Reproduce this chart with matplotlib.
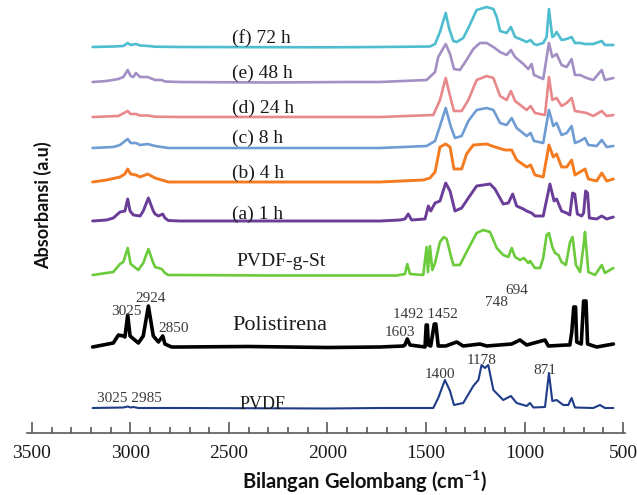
import matplotlib
matplotlib.use('Agg')
import matplotlib.pyplot as plt
from matplotlib.ticker import MultipleLocator

plt.rcParams['font.family'] = 'Liberation Serif'
plt.rcParams['mathtext.fontset'] = 'custom'
plt.rcParams['mathtext.rm'] = 'Lato'
plt.rcParams['mathtext.bf'] = 'Lato:bold'

# FTIR spectra: wavenumber (cm-1) and absorbance (a.u.)
WN_F = [3192, 3087, 3036, 3014, 2999, 2985, 2972, 2951, 2909, 2875, 2750, 2000, 1734, 1480, 1454, 1429, 1400,
        1382, 1361, 1344, 1311, 1285, 1243, 1192, 1158, 1141, 1124, 1091, 1069, 1048, 1023, 989, 969, 952, 938,
        905, 888, 876, 859, 850, 837, 812, 786, 761, 744, 718, 693, 651, 608, 592, 549]
AB_F = [0, 0.5, 1, 4, 2, 2.5, 3, 1.5, 1, 0.3, 0, -0.3, 0, 0.5, 3, 15, 34,
        18, 6, 5, 9, 19, 37, 40, 38, 30, 16, 14, 20, 10, 8, 5, 7, 3, 2,
        4, 10, 38, 10, 11, 15, 7, 8, 10, 4, 4, 3, 3, 6, 2, 2]

WN_E = [3192, 3121, 3061, 3036, 3014, 2999, 2985, 2972, 2951, 2913, 2875, 2841, 2825, 2750, 2300, 1900, 1734,
        1497, 1454, 1438, 1400, 1378, 1358, 1328, 1294, 1260, 1226, 1192, 1158, 1124, 1091, 1069, 1048, 1006,
        981, 964, 952, 905, 876, 859, 837, 812, 786, 761, 744, 718, 685, 651, 608, 592, 549]
AB_E = [0, 1, 3, 5, 12, 6, 5, 9, 5, 5, 2, 2, 0.5, 0, -0.5, 0, 0,
        2, 10, 25, 38, 28, 13, 12, 22, 33, 39, 39, 35, 30, 27, 32, 25, 18,
        13, 18, 7, 3, 39, 25, 28, 17, 15, 23, 7, 7, 4, 2, 12, 2, 4]

WN_D = [3192, 3061, 3014, 2999, 2972, 2951, 2913, 2875, 2750, 1734, 1463, 1429, 1400, 1378, 1358, 1319, 1285,
        1243, 1192, 1158, 1124, 1091, 1069, 1048, 989, 969, 947, 896, 876, 859, 837, 812, 786, 761, 744, 685,
        651, 608, 583, 549]
AB_D = [0, 1, 6, 3, 3, 1.5, 1.5, 0.3, 0, 0, 2, 17, 39, 21, 6, 6, 17,
        37, 41, 39, 21, 17, 26, 16, 7, 11, 4, 2, 40, 17, 19, 11, 14, 19, 6, 4,
        1, 6, 1, 2]

WN_C = [3192, 3087, 3053, 3014, 2999, 2972, 2951, 2913, 2875, 2841, 2808, 2750, 1734, 1497, 1454, 1429, 1400,
        1375, 1353, 1319, 1285, 1243, 1192, 1158, 1124, 1091, 1065, 1040, 989, 969, 952, 905, 876, 854, 837,
        812, 786, 761, 744, 718, 693, 676, 634, 608, 583, 549]
AB_C = [0, 1, 3, 9, 5, 5, 3, 4, 2, 1, 0, 0, 0, 2, 7, 22, 40,
        22, 10, 12, 27, 38, 40, 38, 25, 23, 30, 20, 12, 15, 7, 5, 38, 22, 25,
        13, 15, 22, 5, 7, 10, 3, 2, 8, 1, 2]

WN_B = [3192, 3121, 3053, 3028, 3014, 2999, 2972, 2951, 2913, 2875, 2841, 2808, 2750, 1734, 1514, 1480, 1454,
        1429, 1400, 1378, 1358, 1319, 1294, 1260, 1192, 1150, 1099, 1065, 1040, 989, 969, 947, 905, 876, 854,
        837, 812, 786, 761, 744, 718, 693, 676, 634, 608, 583, 549]
AB_B = [0, 2, 5, 8, 13, 8, 7, 5, 8, 4, 2, 0, 0, 0, 2, 4, 10,
        35, 38, 35, 13, 13, 28, 37, 38, 35, 32, 32, 22, 15, 17, 7, 5, 37, 25,
        28, 15, 15, 22, 7, 10, 13, 3, 1, 9, 1, 3]

WN_A = [3192, 3121, 3087, 3053, 3028, 3014, 3002, 2985, 2951, 2935, 2909, 2884, 2875, 2858, 2836, 2825, 2808,
        2750, 1734, 1632, 1607, 1590, 1573, 1505, 1488, 1476, 1454, 1429, 1400, 1378, 1353, 1319, 1285, 1243,
        1175, 1150, 1108, 1082, 1060, 1040, 1006, 989, 964, 947, 905, 871, 850, 837, 812, 786, 770, 756, 745,
        732, 710, 700, 690, 680, 671, 634, 608, 583, 549]
AB_A = [0, 1, 3, 9, 10, 22, 10, 6, 5, 10, 23, 10, 7, 5, 7, 3, 0.5,
        0, 0, 1, 2, 7, 1, 2, 15, 10, 18, 20, 38, 30, 10, 13, 23, 35,
        37, 32, 17, 18, 27, 15, 12, 10, 8, 5, 5, 37, 20, 22, 10, 8, 6, 28, 27,
        7, 5, 8, 30, 28, 3, 2, 5, 2, 4]

WN_G = [3192, 3087, 3053, 3036, 3014, 2999, 2960, 2935, 2909, 2884, 2875, 2841, 2825, 2808, 2750, 2300, 1734,
        1649, 1607, 1595, 1581, 1514, 1497, 1490, 1480, 1468, 1454, 1429, 1410, 1395, 1375, 1361, 1328, 1294,
        1243, 1209, 1175, 1141, 1108, 1082, 1065, 1048, 1023, 1003, 981, 972, 947, 921, 905, 888, 876, 859,
        845, 828, 812, 790, 769, 756, 739, 718, 700, 693, 676, 642, 608, 592, 549]
AB_G = [0, 3, 11, 13, 27, 11, 5, 12, 26, 12, 8, 6, 2, 0, 0, -0.5, -0.5,
        -0.5, 1, 11, 1, 0, 28, 3, 29, 5, 12, 33, 38, 36, 20, 10, 10, 23,
        42, 45, 43, 27, 20, 18, 27, 18, 15, 17, 12, 14, 7, 7, 17, 40, 42, 28,
        22, 20, 13, 10, 33, 38, 10, 3, 30, 43, 3, 0, 10, 2, 7]

WN_PS = [3192, 3087, 3061, 3036, 3028, 3014, 3002, 2960, 2935, 2909, 2884, 2858, 2836, 2825, 2791, 2750, 2400,
         2000, 1734, 1615, 1607, 1595, 1581, 1505, 1499, 1493, 1488, 1476, 1458, 1450, 1438, 1400, 1344, 1311,
         1226, 1192, 1065, 1023, 989, 896, 879, 786, 770, 760, 750, 741, 735, 712, 700, 688, 680, 634, 549]
AB_PS = [0, 4, 12, 11, 10, 32, 11, 4, 11, 41, 11, 5, 11, 3, 0, 0, 0.5,
         -0.5, 0, 1, 2, 8, 2, 0, 22, 22, 2, 1, 23, 23, 1, 1, 5, 1,
         3, 1, 3, 7, 2, 7, 1, 2, 2, 15, 40, 40, 5, 3, 46, 46, 3, 0, 3]

WN_PVDF = [3192, 3036, 3014, 2999, 2985, 2960, 2750, 2000, 1734, 1463, 1438, 1404, 1378, 1358, 1311, 1260, 1234,
           1218, 1201, 1184, 1158, 1108, 1069, 1040, 989, 972, 955, 896, 876, 859, 837, 803, 778, 761, 744, 651,
           617, 592, 549]
AB_PVDF = [0, 0.5, 1.5, 0.5, 1, 0, 0, -0.5, 0, 0, 10, 28, 17, 3, 5, 22, 28,
           43, 40, 43, 18, 8, 12, 5, 2, 5, 0.5, 1, 35, 7, 8, 3, 3, 10, 0.5, 0,
           3, 0, 0]

WAVENUMBERS = [WN_F, WN_E, WN_D, WN_C, WN_B, WN_A, WN_G, WN_PS, WN_PVDF]
ABSORBANCES = [AB_F, AB_E, AB_D, AB_C, AB_B, AB_A, AB_G, AB_PS, AB_PVDF]
NAMES = ['(f) 72 h', '(e) 48 h', '(d) 24 h', '(c) 8 h', '(b) 4 h', '(a) 1 h', 'PVDF-g-St', 'Polistirena', 'PVDF']

# peak annotations (wavenumber label only)
PEAK_TEXT = ['3025', '2924', '2850', '1603', '1492 1452', '748', '694', '3025 2985', '1400', '1178', '871']

# stacking and styling
OFFSETS = [386, 351, 316, 285, 251, 212, 158, 86, 25]
COLORS = ['#4DBDCF', '#A38FC4', '#E8888B', '#6F9CD2', '#F47B20', '#6A3D98', '#6BCB3B', '#000000', '#1F3C88']
WIDTHS = [1.9, 1.9, 1.9, 1.9, 2.1, 2.1, 1.9, 2.6, 1.5]
# name label: (x, y baseline), fontsize
NAME_POS = [(2485, 390), (2485, 355), (2485, 320), (2485, 290), (2485, 255), (2485, 214),
            (2462, 167), (2485, 103), (2445, 24)]
NAME_SIZE = [14, 14, 14, 14, 14, 14, 14, 16, 13]
PEAK_POS = [(3018, 121.5), (2900, 134), (2780, 104.5), (1632, 100.5), (1505, 119), (1142, 130.5),
            (1040, 143), (3006, 34), (1427, 59), (1220, 73), (899, 62)]

fig = plt.figure(figsize=(6.37, 4.95), dpi=100)
ax = fig.add_axes([27 / 637, 62 / 495, 598 / 637, 433 / 495])
fig.patch.set_facecolor('white')

for wn, ab, off, col, lw in zip(WAVENUMBERS, ABSORBANCES, OFFSETS, COLORS, WIDTHS):
    ax.plot(wn, [off + a for a in ab], color=col, lw=lw, solid_joinstyle='round', solid_capstyle='round')

for name, (x, y), fs in zip(NAMES, NAME_POS, NAME_SIZE):
    ax.text(x, y, name, fontsize=fs, color='#1a1a1a', ha='left', va='baseline')

for txt, (x, y) in zip(PEAK_TEXT, PEAK_POS):
    ax.text(x, y, txt, fontsize=11, color='#3a3a3a', ha='center', va='center')

ax.set_xlim(3525, 490)
ax.set_ylim(0, 433)
ax.xaxis.set_major_locator(MultipleLocator(500))
ax.xaxis.set_minor_locator(MultipleLocator(100))
ax.tick_params(axis='x', which='major', direction='in', length=8, width=1.2, color='#595959',
               labelsize=14, pad=9, labelcolor='#1a1a1a')
ax.tick_params(axis='x', which='minor', direction='in', length=4.5, width=1.2, color='#595959')
ax.set_yticks([])
for s in ['left', 'top', 'right']:
    ax.spines[s].set_visible(False)
ax.spines['bottom'].set_color('#595959')
ax.spines['bottom'].set_linewidth(1.2)

fig.text(365 / 637, 1 - 482 / 495, r'Bilangan Gelombang (cm$^{\mathbf{-1}}$)', family='Lato',
         fontweight='bold', fontsize=14.5, ha='center', va='center', color='#111111')
fig.text(43 / 637, 1 - 205 / 495, 'Absorbansi (a.u)', family='Lato', fontweight='bold',
         fontsize=13, rotation=90, ha='center', va='center', color='#111111')

plt.savefig('out.png', dpi=100, facecolor='white')
plt.close()
